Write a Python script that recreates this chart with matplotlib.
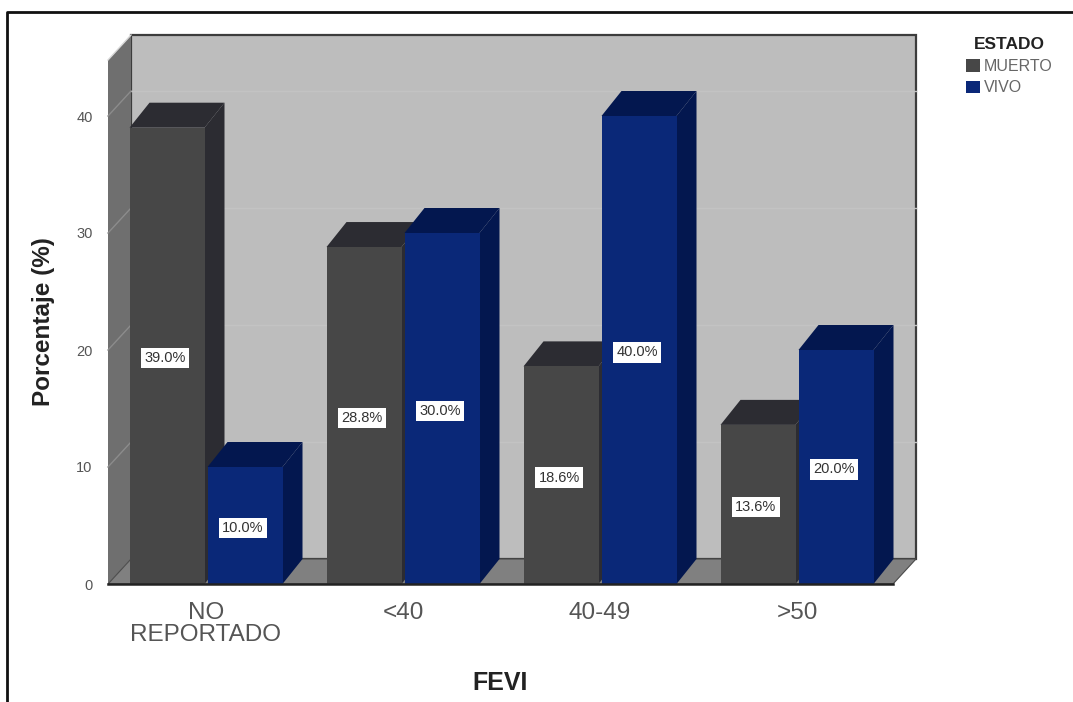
import numpy as np
import matplotlib
matplotlib.use("Agg")
import matplotlib.pyplot as plt
from matplotlib.patches import Polygon, Patch
from matplotlib.lines import Line2D

plt.rcParams['font.family'] = ['Liberation Sans', 'DejaVu Sans']

categories = ["NO\nREPORTADO", "<40", "40-49", ">50"]
muerto = [39.0, 28.8, 18.6, 13.6]
vivo = [10.0, 30.0, 40.0, 20.0]
y_ticks = [0, 10, 20, 30, 40]

W, H = 1073, 702
fig = plt.figure(figsize=(W / 100, H / 100), dpi=100, facecolor='white')

# Plot area of the front plane, in figure pixels
left, right, bottom, top = 108, 893, 584, 60
ax = fig.add_axes([left / W, 1 - bottom / H, (right - left) / W, (bottom - top) / H])
ax.patch.set_alpha(0)
px_x = 197.0   # pixels per category
px_y = 11.7    # pixels per percentage point
ax.set_xlim((left - 206) / px_x, (right - 206) / px_x)
ax.set_ylim(0, (bottom - top) / px_y)
x0, x1 = ax.get_xlim()
y0, y1 = ax.get_ylim()

# Oblique depth of the pseudo-3D box and bars
wall_dx, wall_dy = 23 / px_x, 25 / px_y
bar_dx, bar_dy = 20 / px_x, 25 / px_y
bar_w = 75 / px_x
offset = 39 / px_x


def poly(pts, color, z, edge='none', lw=0):
    ax.add_patch(Polygon(pts, closed=True, facecolor=color, edgecolor=edge,
                         linewidth=lw, zorder=z, clip_on=False))


# Back wall, side wall and floor
poly([(x0 + wall_dx, y0 + wall_dy), (x1 + wall_dx, y0 + wall_dy),
      (x1 + wall_dx, y1 + wall_dy), (x0 + wall_dx, y1 + wall_dy)], '#bdbdbd', 1,
     edge='#3c3c3c', lw=1.6)
poly([(x0, y0), (x0 + wall_dx, y0 + wall_dy), (x0 + wall_dx, y1 + wall_dy), (x0, y1)],
     '#6f6f6f', 1.5)
poly([(x0, y0), (x1, y0), (x1 + wall_dx, y0 + wall_dy), (x0 + wall_dx, y0 + wall_dy)],
     '#808080', 1.5, edge='#4a4a4a', lw=0.8)

# Gridlines across the walls
for t in y_ticks[1:]:
    ax.plot([x0 + wall_dx, x1 + wall_dx], [t + wall_dy, t + wall_dy],
            color='#c3c3c3', lw=1.0, zorder=1.2, clip_on=False)
    ax.plot([x0, x0 + wall_dx], [t, t + wall_dy],
            color='#8c8c8c', lw=1.0, zorder=1.6, clip_on=False)
ax.plot([x0, x0 + wall_dx], [y1, y1 + wall_dy], color='#d8d8d8', lw=1.0,
        zorder=1.6, clip_on=False)


def bar3d(xc, value, front, dark, z):
    xl, xr = xc - bar_w / 2, xc + bar_w / 2
    ax.bar(xc, value, width=bar_w, color=front, linewidth=0, zorder=z + 0.2)
    poly([(xr, 0), (xr + bar_dx, bar_dy), (xr + bar_dx, value + bar_dy), (xr, value)],
         dark, z)
    poly([(xl, value), (xr, value), (xr + bar_dx, value + bar_dy), (xl + bar_dx, value + bar_dy)],
         dark, z + 0.1)
    ax.text(xc - 2 / px_x, value / 2 - 0.2, f"{value:.1f}%", ha='center', va='center',
            fontsize=10.5, color='#333333', zorder=z + 0.3,
            bbox=dict(boxstyle='square,pad=0.22', facecolor='white', edgecolor='none'))


z = 3.0
for i, (m, v) in enumerate(zip(muerto, vivo)):
    bar3d(i - offset, m, '#474747', '#2c2c32', z)
    bar3d(i + offset, v, '#0a2878', '#03174f', z + 1)
    z += 2

# Axes, ticks and titles
for s in ax.spines.values():
    s.set_visible(False)
ax.plot([x0, x1], [0, 0], color='#222222', lw=1.8, zorder=20, clip_on=False)
ax.set_xticks(range(len(categories)))
ax.set_xticklabels(categories, fontsize=17.5, color='#555555', linespacing=1.0)
ax.set_yticks(y_ticks)
ax.tick_params(axis='x', length=0, pad=13)
ax.tick_params(axis='y', length=0, pad=11, labelsize=10.5, labelcolor='#555555')

fig.text(44 / W, 1 - 322 / H, "Porcentaje (%)", rotation=90, ha='center', va='center',
         fontsize=17.5, fontweight='bold', color='#222222')
fig.text(500 / W, 1 - 683 / H, "FEVI", ha='center', va='center',
         fontsize=18, fontweight='bold', color='#222222')

# Legend
handles = [Patch(facecolor='#474747', label='MUERTO'), Patch(facecolor='#0a2878', label='VIVO')]
leg = fig.legend(handles=handles, title='ESTADO', loc='upper left',
                 bbox_to_anchor=(966 / W, 1 - 37 / H), frameon=False, fontsize=11.5,
                 handlelength=0.85, handleheight=0.85, handletextpad=0.25, labelspacing=0.42,
                 borderpad=0, borderaxespad=0, labelcolor='#666666')
leg.get_title().set_fontweight('bold')
leg.get_title().set_fontsize(12.5)
leg.get_title().set_color('#222222')

# Outer frame along the top and left edges
fig.add_artist(Line2D([7 / W, 7 / W, 1], [0, 1 - 12 / H, 1 - 12 / H],
                      color='#111111', lw=2.0, transform=fig.transFigure))

fig.savefig('out.png', dpi=100)
